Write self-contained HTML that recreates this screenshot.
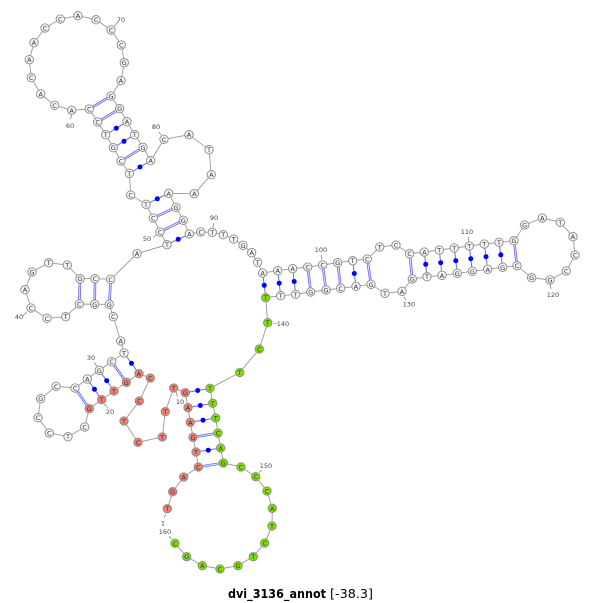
<!DOCTYPE html>
<html><head><meta charset="utf-8"><style>
html,body{margin:0;padding:0;background:#fff;width:600px;height:603px;overflow:hidden}
svg{display:block}
.n circle{stroke:#8a8a8a;stroke-width:.9;fill:#f4f4f4}
.r circle{fill:#f08070}
.g circle{fill:#7ee000}
.n text{font:6.5px "DejaVu Sans",sans-serif;fill:#333;text-anchor:middle}
.l text{font:6.5px "DejaVu Sans",sans-serif;fill:#444;text-anchor:middle}
</style></head><body>
<svg width="600" height="603" viewBox="0 0 600 603" xmlns="http://www.w3.org/2000/svg">
<polyline fill="none" stroke="#999" stroke-width=".9" points="167.3,508.7 172.7,491.7 183.7,477 198.3,467 196,452 193,437.3 190.3,422.3 188,407.7 185.3,392.7 173.7,388 165.3,411.7 162.3,437 138,442.3 124,421 139.3,401 150.3,378 139,373.7 126.3,382.3 114,391 101.7,399.7 89.3,408.7 84.7,427 68,436.7 49.3,433 38,417.7 40.7,398.7 56,386.3 75,388 87.3,379 99.3,370.3 111.7,361.7 124,353 120.7,341 113.3,316.7 109.3,304.3 94.7,304.3 79.3,304 65.7,316.7 47,318.3 31,308 25,289.7 32,272 48.7,262.7 67.3,265 80,278.7 95,278.7 110.7,279.3 137,253.7 167,244.7 160,232 153.3,218 146,204.3 130.7,195 129.3,173.3 121,161 113.3,147.7 105.7,134.7 97.7,122 89.3,109 71.7,110.3 54.7,105.3 40.7,94 31.3,77.7 29.3,59.7 34,42.7 45,28 60.3,19 78,15.7 96,19.7 111,30 121.3,45 124.3,62.7 121,80.7 111,96 119.7,108.7 127,121.7 134.7,134.7 143,147.3 150.7,160.7 164,139.3 189,134.7 209,149.7 211.3,174.7 194.3,193.7 168.7,193.3 176,207.3 183.3,220.3 189.3,234 200.7,232 212.3,232.3 223.3,234.7 233.7,239 243,245.3 251.7,252.7 257.7,262.3 262.7,273 277.7,270.7 292.7,268.7 307.7,267 322.7,265 337.7,262.7 352.7,260.7 367.3,259 379.7,247 396,245 409.7,253.7 424.3,252 439.3,250 454.3,248 469.3,246 484.3,244 499,242.3 514,240.7 524.7,225 542.3,218 560.3,222.3 573,236.7 575,255 566.3,271 550,280 531.7,277.7 517,265.7 502.7,267.3 487.7,269.3 472.3,271.3 457.3,273.3 442,275.3 427,276.7 412.3,279 402,291.3 385,293.3 371,284.3 356,286.3 340.7,288.3 326,290 310.7,292 295.7,294.3 280.7,295.7 265.7,297.7 267.7,322.7 259.3,349 239.7,372.5 210,388.3 212.7,403.3 215.7,418 218,433 220.7,448 223.3,463 241,467 255.7,476.7 267,491 272.3,508.3 272,526 264.7,543 253.3,556.7 238,565.7 220,569 202.3,565.7 186.7,556.7 175,543.3"/>
<!-- single-line pairs -->
<path fill="none" stroke="#6a6aff" stroke-width="1" d="M196,452L220.7,448M190.3,422.3L215.7,418M188,407.7L212.7,403.3M185.3,392.7L210,388.3M139,373.7L124,353M114,391L99.3,370.3M101.7,399.7L87.3,379M167,244.7L189.3,234M146,204.3L168.7,193.3M129.3,173.3L150.7,160.7M113.3,147.7L134.7,134.7M105.7,134.7L127,121.7M262.7,273L265.7,297.7M277.7,270.7L280.7,295.7M292.7,268.7L295.7,294.3M352.7,260.7L356,286.3M424.3,252L427,276.7M439.3,250L442,275.3M454.3,248L457.3,273.3M469.3,246L472.3,271.3M484.3,244L487.7,269.3M499,242.3L502.7,267.3"/>
<!-- double-line pairs -->
<path fill="none" stroke="#6a6aff" stroke-width="2.6" d="M198.3,467L223.3,463M193,437.3L218,433M126.3,382.3L111.7,361.7M89.3,408.7L75,388M109.3,304.3L110.7,279.3M94.7,304.3L95,278.7M79.3,304L80,278.7M160,232L183.3,220.3M153.3,218L176,207.3M121,161L143,147.3M97.7,122L119.7,108.7M89.3,109L111,96M307.7,267L310.7,292M322.7,265L326,290M337.7,262.7L340.7,288.3M367.3,259L371,284.3M409.7,253.7L412.3,279M514,240.7L517,265.7"/>
<path fill="none" stroke="#e8e8ff" stroke-width=".9" d="M198.3,467L223.3,463M193,437.3L218,433M126.3,382.3L111.7,361.7M89.3,408.7L75,388M109.3,304.3L110.7,279.3M94.7,304.3L95,278.7M79.3,304L80,278.7M160,232L183.3,220.3M153.3,218L176,207.3M121,161L143,147.3M97.7,122L119.7,108.7M89.3,109L111,96M307.7,267L310.7,292M322.7,265L326,290M337.7,262.7L340.7,288.3M367.3,259L371,284.3M409.7,253.7L412.3,279M514,240.7L517,265.7"/>
<!-- dots -->
<g fill="#0000ff">
<circle cx="208.3" cy="450.2" r="2.5"/><circle cx="203" cy="420.2" r="2.5"/><circle cx="200.3" cy="405.5" r="2.5"/><circle cx="197.7" cy="390.5" r="2.5"/><circle cx="131.5" cy="363.3" r="2.5"/><circle cx="106.7" cy="380.7" r="2.5"/><circle cx="94.5" cy="389.3" r="2.5"/><circle cx="178.2" cy="239.3" r="2.5"/><circle cx="157.3" cy="198.8" r="2.5"/><circle cx="140" cy="167" r="2.5"/><circle cx="124" cy="141.3" r="2.5"/><circle cx="116.3" cy="128.2" r="2.5"/><circle cx="264.2" cy="285.3" r="2.5"/><circle cx="279.2" cy="283.2" r="2.5"/><circle cx="294.2" cy="281.5" r="2.5"/><circle cx="354.3" cy="273.5" r="2.5"/><circle cx="425.7" cy="264.3" r="2.5"/><circle cx="440.7" cy="262.7" r="2.5"/><circle cx="455.8" cy="260.7" r="2.5"/><circle cx="470.8" cy="258.7" r="2.5"/><circle cx="486" cy="256.7" r="2.5"/><circle cx="500.8" cy="254.8" r="2.5"/>
</g>
<!-- number ticks -->
<path fill="none" stroke="#777" stroke-width=".7" d="M114,26.7L118.3,21.7M71.7,115L70.3,119.3M161,135L158.7,131.7M212.7,228.3L213.7,223.3M153.3,237.3L156,235M22.7,316L26.7,312M94.3,362.3L96.7,366M104.3,404L107.7,407.7M176,392.3L177.7,396.7M165.7,514.3L164.3,518M169,536L171.7,539M259,472.3L262.3,470M273.3,323.7L276.7,323.7M404,296.7L405.7,300M550,283.7L551,289M468.7,236.7L468.7,241.3M321.7,255L321.7,260"/>
<g class="l">
<text x="121" y="22">70</text><text x="70" y="128">60</text><text x="156" y="129">80</text><text x="214" y="220">90</text><text x="147" y="241">50</text><text x="19" y="319">40</text><text x="91" y="360">30</text><text x="110" y="414">20</text><text x="180" y="404">10</text><text x="163" y="525.5">1</text><text x="165" y="534">160</text><text x="266" y="468">150</text><text x="283" y="326">140</text><text x="409" y="306.5">130</text><text x="553" y="297">120</text><text x="467" y="234">110</text><text x="321" y="252">100</text>
</g>
<g class="n r">
<circle cx="167.3" cy="508.7" r="4.2"/><text x="167.3" y="511.2">T</text>
<circle cx="172.7" cy="491.7" r="4.2"/><text x="172.7" y="494.2">G</text>
<circle cx="183.7" cy="477" r="4.2"/><text x="183.7" y="479.5">A</text>
<circle cx="198.3" cy="467" r="4.2"/><text x="198.3" y="469.5">C</text>
<circle cx="196" cy="452" r="4.2"/><text x="196" y="454.5">T</text>
<circle cx="193" cy="437.3" r="4.2"/><text x="193" y="439.8">G</text>
<circle cx="190.3" cy="422.3" r="4.2"/><text x="190.3" y="424.8">A</text>
<circle cx="188" cy="407.7" r="4.2"/><text x="188" y="410.2">A</text>
<circle cx="185.3" cy="392.7" r="4.2"/><text x="185.3" y="395.2">G</text>
<circle cx="173.7" cy="388" r="4.2"/><text x="173.7" y="390.5">T</text>
<circle cx="165.3" cy="411.7" r="4.2"/><text x="165.3" y="414.2">T</text>
<circle cx="162.3" cy="437" r="4.2"/><text x="162.3" y="439.5">T</text>
<circle cx="138" cy="442.3" r="4.2"/><text x="138" y="444.8">C</text>
<circle cx="124" cy="421" r="4.2"/><text x="124" y="423.5">T</text>
<circle cx="139.3" cy="401" r="4.2"/><text x="139.3" y="403.5">C</text>
<circle cx="150.3" cy="378" r="4.2"/><text x="150.3" y="380.5">C</text>
<circle cx="139" cy="373.7" r="4.2"/><text x="139" y="376.2">A</text>
<circle cx="126.3" cy="382.3" r="4.2"/><text x="126.3" y="384.8">G</text>
<circle cx="114" cy="391" r="4.2"/><text x="114" y="393.5">T</text>
<circle cx="101.7" cy="399.7" r="4.2"/><text x="101.7" y="402.2">T</text>
<circle cx="89.3" cy="408.7" r="4.2"/><text x="89.3" y="411.2">G</text>
</g>
<g class="n">
<circle cx="84.7" cy="427" r="4.2"/><text x="84.7" y="429.5">C</text>
<circle cx="68" cy="436.7" r="4.2"/><text x="68" y="439.2">T</text>
<circle cx="49.3" cy="433" r="4.2"/><text x="49.3" y="435.5">C</text>
<circle cx="38" cy="417.7" r="4.2"/><text x="38" y="420.2">C</text>
<circle cx="40.7" cy="398.7" r="4.2"/><text x="40.7" y="401.2">G</text>
<circle cx="56" cy="386.3" r="4.2"/><text x="56" y="388.8">C</text>
<circle cx="75" cy="388" r="4.2"/><text x="75" y="390.5">C</text>
<circle cx="87.3" cy="379" r="4.2"/><text x="87.3" y="381.5">A</text>
<circle cx="99.3" cy="370.3" r="4.2"/><text x="99.3" y="372.8">G</text>
<circle cx="111.7" cy="361.7" r="4.2"/><text x="111.7" y="364.2">C</text>
<circle cx="124" cy="353" r="4.2"/><text x="124" y="355.5">T</text>
<circle cx="120.7" cy="341" r="4.2"/><text x="120.7" y="343.5">A</text>
<circle cx="113.3" cy="316.7" r="4.2"/><text x="113.3" y="319.2">C</text>
<circle cx="109.3" cy="304.3" r="4.2"/><text x="109.3" y="306.8">G</text>
<circle cx="94.7" cy="304.3" r="4.2"/><text x="94.7" y="306.8">G</text>
<circle cx="79.3" cy="304" r="4.2"/><text x="79.3" y="306.5">C</text>
<circle cx="65.7" cy="316.7" r="4.2"/><text x="65.7" y="319.2">T</text>
<circle cx="47" cy="318.3" r="4.2"/><text x="47" y="320.8">C</text>
<circle cx="31" cy="308" r="4.2"/><text x="31" y="310.5">C</text>
<circle cx="25" cy="289.7" r="4.2"/><text x="25" y="292.2">A</text>
<circle cx="32" cy="272" r="4.2"/><text x="32" y="274.5">G</text>
<circle cx="48.7" cy="262.7" r="4.2"/><text x="48.7" y="265.2">T</text>
<circle cx="67.3" cy="265" r="4.2"/><text x="67.3" y="267.5">T</text>
<circle cx="80" cy="278.7" r="4.2"/><text x="80" y="281.2">G</text>
<circle cx="95" cy="278.7" r="4.2"/><text x="95" y="281.2">C</text>
<circle cx="110.7" cy="279.3" r="4.2"/><text x="110.7" y="281.8">C</text>
<circle cx="137" cy="253.7" r="4.2"/><text x="137" y="256.2">A</text>
<circle cx="167" cy="244.7" r="4.2"/><text x="167" y="247.2">T</text>
<circle cx="160" cy="232" r="4.2"/><text x="160" y="234.5">C</text>
<circle cx="153.3" cy="218" r="4.2"/><text x="153.3" y="220.5">C</text>
<circle cx="146" cy="204.3" r="4.2"/><text x="146" y="206.8">T</text>
<circle cx="130.7" cy="195" r="4.2"/><text x="130.7" y="197.5">C</text>
<circle cx="129.3" cy="173.3" r="4.2"/><text x="129.3" y="175.8">T</text>
<circle cx="121" cy="161" r="4.2"/><text x="121" y="163.5">C</text>
<circle cx="113.3" cy="147.7" r="4.2"/><text x="113.3" y="150.2">G</text>
<circle cx="105.7" cy="134.7" r="4.2"/><text x="105.7" y="137.2">T</text>
<circle cx="97.7" cy="122" r="4.2"/><text x="97.7" y="124.5">C</text>
<circle cx="89.3" cy="109" r="4.2"/><text x="89.3" y="111.5">C</text>
<circle cx="71.7" cy="110.3" r="4.2"/><text x="71.7" y="112.8">A</text>
<circle cx="54.7" cy="105.3" r="4.2"/><text x="54.7" y="107.8">C</text>
<circle cx="40.7" cy="94" r="4.2"/><text x="40.7" y="96.5">A</text>
<circle cx="31.3" cy="77.7" r="4.2"/><text x="31.3" y="80.2">C</text>
<circle cx="29.3" cy="59.7" r="4.2"/><text x="29.3" y="62.2">A</text>
<circle cx="34" cy="42.7" r="4.2"/><text x="34" y="45.2">A</text>
<circle cx="45" cy="28" r="4.2"/><text x="45" y="30.5">C</text>
<circle cx="60.3" cy="19" r="4.2"/><text x="60.3" y="21.5">C</text>
<circle cx="78" cy="15.7" r="4.2"/><text x="78" y="18.2">A</text>
<circle cx="96" cy="19.7" r="4.2"/><text x="96" y="22.2">C</text>
<circle cx="111" cy="30" r="4.2"/><text x="111" y="32.5">C</text>
<circle cx="121.3" cy="45" r="4.2"/><text x="121.3" y="47.5">C</text>
<circle cx="124.3" cy="62.7" r="4.2"/><text x="124.3" y="65.2">G</text>
<circle cx="121" cy="80.7" r="4.2"/><text x="121" y="83.2">A</text>
<circle cx="111" cy="96" r="4.2"/><text x="111" y="98.5">G</text>
<circle cx="119.7" cy="108.7" r="4.2"/><text x="119.7" y="111.2">G</text>
<circle cx="127" cy="121.7" r="4.2"/><text x="127" y="124.2">A</text>
<circle cx="134.7" cy="134.7" r="4.2"/><text x="134.7" y="137.2">T</text>
<circle cx="143" cy="147.3" r="4.2"/><text x="143" y="149.8">G</text>
<circle cx="150.7" cy="160.7" r="4.2"/><text x="150.7" y="163.2">A</text>
<circle cx="164" cy="139.3" r="4.2"/><text x="164" y="141.8">C</text>
<circle cx="189" cy="134.7" r="4.2"/><text x="189" y="137.2">A</text>
<circle cx="209" cy="149.7" r="4.2"/><text x="209" y="152.2">T</text>
<circle cx="211.3" cy="174.7" r="4.2"/><text x="211.3" y="177.2">A</text>
<circle cx="194.3" cy="193.7" r="4.2"/><text x="194.3" y="196.2">A</text>
<circle cx="168.7" cy="193.3" r="4.2"/><text x="168.7" y="195.8">A</text>
<circle cx="176" cy="207.3" r="4.2"/><text x="176" y="209.8">G</text>
<circle cx="183.3" cy="220.3" r="4.2"/><text x="183.3" y="222.8">G</text>
<circle cx="189.3" cy="234" r="4.2"/><text x="189.3" y="236.5">A</text>
<circle cx="200.7" cy="232" r="4.2"/><text x="200.7" y="234.5">C</text>
<circle cx="212.3" cy="232.3" r="4.2"/><text x="212.3" y="234.8">T</text>
<circle cx="223.3" cy="234.7" r="4.2"/><text x="223.3" y="237.2">T</text>
<circle cx="233.7" cy="239" r="4.2"/><text x="233.7" y="241.5">T</text>
<circle cx="243" cy="245.3" r="4.2"/><text x="243" y="247.8">G</text>
<circle cx="251.7" cy="252.7" r="4.2"/><text x="251.7" y="255.2">A</text>
<circle cx="257.7" cy="262.3" r="4.2"/><text x="257.7" y="264.8">T</text>
<circle cx="262.7" cy="273" r="4.2"/><text x="262.7" y="275.5">A</text>
<circle cx="277.7" cy="270.7" r="4.2"/><text x="277.7" y="273.2">A</text>
<circle cx="292.7" cy="268.7" r="4.2"/><text x="292.7" y="271.2">A</text>
<circle cx="307.7" cy="267" r="4.2"/><text x="307.7" y="269.5">C</text>
<circle cx="322.7" cy="265" r="4.2"/><text x="322.7" y="267.5">C</text>
<circle cx="337.7" cy="262.7" r="4.2"/><text x="337.7" y="265.2">G</text>
<circle cx="352.7" cy="260.7" r="4.2"/><text x="352.7" y="263.2">T</text>
<circle cx="367.3" cy="259" r="4.2"/><text x="367.3" y="261.5">C</text>
<circle cx="379.7" cy="247" r="4.2"/><text x="379.7" y="249.5">T</text>
<circle cx="396" cy="245" r="4.2"/><text x="396" y="247.5">C</text>
<circle cx="409.7" cy="253.7" r="4.2"/><text x="409.7" y="256.2">C</text>
<circle cx="424.3" cy="252" r="4.2"/><text x="424.3" y="254.5">A</text>
<circle cx="439.3" cy="250" r="4.2"/><text x="439.3" y="252.5">T</text>
<circle cx="454.3" cy="248" r="4.2"/><text x="454.3" y="250.5">T</text>
<circle cx="469.3" cy="246" r="4.2"/><text x="469.3" y="248.5">T</text>
<circle cx="484.3" cy="244" r="4.2"/><text x="484.3" y="246.5">T</text>
<circle cx="499" cy="242.3" r="4.2"/><text x="499" y="244.8">T</text>
<circle cx="514" cy="240.7" r="4.2"/><text x="514" y="243.2">G</text>
<circle cx="524.7" cy="225" r="4.2"/><text x="524.7" y="227.5">G</text>
<circle cx="542.3" cy="218" r="4.2"/><text x="542.3" y="220.5">A</text>
<circle cx="560.3" cy="222.3" r="4.2"/><text x="560.3" y="224.8">T</text>
<circle cx="573" cy="236.7" r="4.2"/><text x="573" y="239.2">A</text>
<circle cx="575" cy="255" r="4.2"/><text x="575" y="257.5">C</text>
<circle cx="566.3" cy="271" r="4.2"/><text x="566.3" y="273.5">C</text>
<circle cx="550" cy="280" r="4.2"/><text x="550" y="282.5">G</text>
<circle cx="531.7" cy="277.7" r="4.2"/><text x="531.7" y="280.2">G</text>
<circle cx="517" cy="265.7" r="4.2"/><text x="517" y="268.2">C</text>
<circle cx="502.7" cy="267.3" r="4.2"/><text x="502.7" y="269.8">G</text>
<circle cx="487.7" cy="269.3" r="4.2"/><text x="487.7" y="271.8">A</text>
<circle cx="472.3" cy="271.3" r="4.2"/><text x="472.3" y="273.8">G</text>
<circle cx="457.3" cy="273.3" r="4.2"/><text x="457.3" y="275.8">G</text>
<circle cx="442" cy="275.3" r="4.2"/><text x="442" y="277.8">A</text>
<circle cx="427" cy="276.7" r="4.2"/><text x="427" y="279.2">T</text>
<circle cx="412.3" cy="279" r="4.2"/><text x="412.3" y="281.5">G</text>
<circle cx="402" cy="291.3" r="4.2"/><text x="402" y="293.8">A</text>
<circle cx="385" cy="293.3" r="4.2"/><text x="385" y="295.8">T</text>
<circle cx="371" cy="284.3" r="4.2"/><text x="371" y="286.8">G</text>
<circle cx="356" cy="286.3" r="4.2"/><text x="356" y="288.8">A</text>
<circle cx="340.7" cy="288.3" r="4.2"/><text x="340.7" y="290.8">C</text>
<circle cx="326" cy="290" r="4.2"/><text x="326" y="292.5">G</text>
<circle cx="310.7" cy="292" r="4.2"/><text x="310.7" y="294.5">G</text>
<circle cx="295.7" cy="294.3" r="4.2"/><text x="295.7" y="296.8">T</text>
<circle cx="280.7" cy="295.7" r="4.2"/><text x="280.7" y="298.2">T</text>
</g>
<g class="n g">
<circle cx="265.7" cy="297.7" r="4.2"/><text x="265.7" y="300.2">T</text>
<circle cx="267.7" cy="322.7" r="4.2"/><text x="267.7" y="325.2">T</text>
<circle cx="259.3" cy="349" r="4.2"/><text x="259.3" y="351.5">C</text>
<circle cx="239.7" cy="372.5" r="4.2"/><text x="239.7" y="375">T</text>
<circle cx="210" cy="388.3" r="4.2"/><text x="210" y="390.8">T</text>
<circle cx="212.7" cy="403.3" r="4.2"/><text x="212.7" y="405.8">T</text>
<circle cx="215.7" cy="418" r="4.2"/><text x="215.7" y="420.5">T</text>
<circle cx="218" cy="433" r="4.2"/><text x="218" y="435.5">C</text>
<circle cx="220.7" cy="448" r="4.2"/><text x="220.7" y="450.5">A</text>
<circle cx="223.3" cy="463" r="4.2"/><text x="223.3" y="465.5">G</text>
<circle cx="241" cy="467" r="4.2"/><text x="241" y="469.5">C</text>
<circle cx="255.7" cy="476.7" r="4.2"/><text x="255.7" y="479.2">C</text>
<circle cx="267" cy="491" r="4.2"/><text x="267" y="493.5">C</text>
<circle cx="272.3" cy="508.3" r="4.2"/><text x="272.3" y="510.8">A</text>
<circle cx="272" cy="526" r="4.2"/><text x="272" y="528.5">T</text>
<circle cx="264.7" cy="543" r="4.2"/><text x="264.7" y="545.5">C</text>
<circle cx="253.3" cy="556.7" r="4.2"/><text x="253.3" y="559.2">T</text>
<circle cx="238" cy="565.7" r="4.2"/><text x="238" y="568.2">G</text>
<circle cx="220" cy="569" r="4.2"/><text x="220" y="571.5">C</text>
<circle cx="202.3" cy="565.7" r="4.2"/><text x="202.3" y="568.2">A</text>
<circle cx="186.7" cy="556.7" r="4.2"/><text x="186.7" y="559.2">G</text>
<circle cx="175" cy="543.3" r="4.2"/><text x="175" y="545.8">C</text>
</g>
<text x="228" y="598" font-family="'DejaVu Sans',sans-serif" font-size="12" font-weight="bold" fill="#000" textLength="98" lengthAdjust="spacingAndGlyphs">dvi_3136_annot</text>
<text x="330" y="598" font-family="'DejaVu Sans',sans-serif" font-size="12" fill="#000" textLength="43" lengthAdjust="spacingAndGlyphs">[-38.3]</text>
</svg>
</body></html>
